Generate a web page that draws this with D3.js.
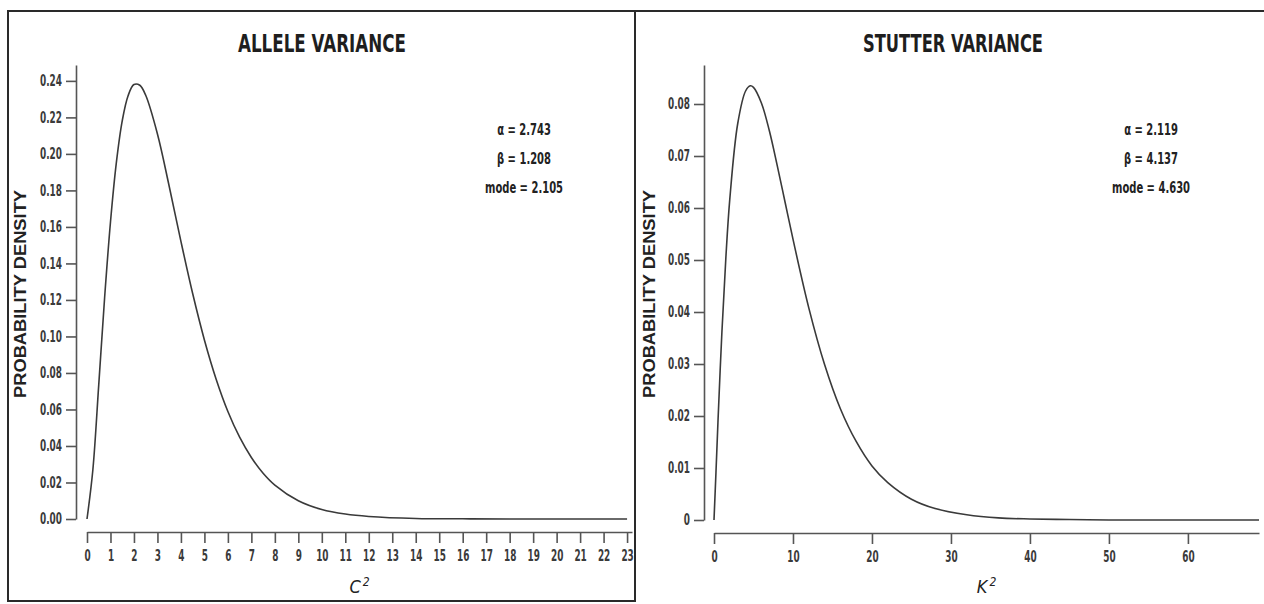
<!DOCTYPE html>
<html>
<head>
<meta charset="utf-8">
<script src="https://cdn.jsdelivr.net/npm/d3@7/dist/d3.min.js"></script>
<style>
  html, body { margin: 0; padding: 0; background: #fff; }
  svg { display: block; }
  .tick text { font-family: "DejaVu Sans Condensed", "Liberation Sans Narrow", sans-serif; font-size: 15px; font-weight: bold; fill: #3a3a3a; }
  .tick line, .domain { stroke: #555; stroke-width: 1.6px; }
</style>
</head>
<body>
<svg id="chart" width="1264" height="604"></svg>
<script>
// ---- Data ----
const titles = ["ALLELE VARIANCE", "STUTTER VARIANCE"];
const xLabels = ["C", "K"];
const yLabel = "PROBABILITY DENSITY";

const alleleX = [0, 0.25, 0.5, 0.75, 1, 1.25, 1.5, 1.75, 2, 2.25, 2.5, 3, 3.5, 4, 4.5, 5, 5.5, 6, 6.5, 7, 7.5, 8, 9, 10, 11, 12, 14, 16, 18, 20, 23];
const alleleY = [0, 0.027, 0.0735, 0.1212, 0.1627, 0.1952, 0.2181, 0.2319, 0.2380, 0.2376, 0.2321, 0.2109, 0.1823, 0.1521, 0.1235, 0.0981, 0.0766, 0.0589, 0.0448, 0.0337, 0.0251, 0.0186, 0.0100, 0.0052, 0.0027, 0.0014, 0.0003, 0.0001, 0, 0, 0];

const stutterX = [0, 0.25, 0.5, 1, 1.5, 2, 3, 4, 4.6, 5, 6, 7, 8, 9, 10, 12, 14, 16, 18, 20, 22, 25, 28, 32, 36, 40, 45, 50, 55, 60, 69];
const stutterY = [0, 0.0092, 0.0188, 0.0361, 0.0504, 0.0617, 0.0762, 0.0825, 0.0835, 0.0832, 0.0802, 0.0749, 0.0682, 0.0611, 0.0540, 0.0408, 0.0299, 0.0214, 0.0151, 0.0104, 0.0072, 0.0040, 0.0022, 0.0010, 0.0004, 0.0002, 0.0001, 0, 0, 0, 0];

const alleleXTicks = d3.range(0, 24, 1);
const alleleYTicks = [0, 0.02, 0.04, 0.06, 0.08, 0.10, 0.12, 0.14, 0.16, 0.18, 0.20, 0.22, 0.24];
const stutterXTicks = [0, 10, 20, 30, 40, 50, 60];
const stutterYTicks = [0, 0.01, 0.02, 0.03, 0.04, 0.05, 0.06, 0.07, 0.08];

const alleleParams = ["\u03b1 = 2.743", "\u03b2 = 1.208", "mode = 2.105"];
const stutterParams = ["\u03b1 = 2.119", "\u03b2 = 4.137", "mode = 4.630"];

// ---- Drawing ----
const svg = d3.select("#chart");
const narrow = '"DejaVu Sans Condensed", "Liberation Sans Narrow", sans-serif';
const SX = 0.66; // horizontal squeeze to mimic the condensed face

// frame
svg.append("rect").attr("x", 8).attr("y", 11).attr("width", 627).attr("height", 590)
  .attr("fill", "none").attr("stroke", "#2a2a2a").attr("stroke-width", 2);
svg.append("line").attr("x1", 635).attr("x2", 1264).attr("y1", 11).attr("y2", 11)
  .attr("stroke", "#2a2a2a").attr("stroke-width", 2);

const panels = [
  {
    title: titles[0], titleW: 168, xl: xLabels[0], xs: alleleX, ys: alleleY,
    xDomain: [0, 23.21], xRange: [87, 632], xTicks: alleleXTicks, xFmt: d3.format("d"),
    yDomain: [0, 0.2487], yRange: [519, 65], yTicks: alleleYTicks, yFmt: d3.format(".2f"),
    yAxisX: 76, xAxisY: 532, titleX: 322, yLabelX: 20, params: alleleParams, paramX: 524
  },
  {
    title: titles[1], titleW: 180, xl: xLabels[1], xs: stutterX, ys: stutterY,
    xDomain: [0, 69], xRange: [714, 1259], xTicks: stutterXTicks, xFmt: d3.format("d"),
    yDomain: [0, 0.0875], yRange: [520, 65], yTicks: stutterYTicks, yFmt: d => d === 0 ? "0" : d3.format(".2f")(d),
    yAxisX: 704, xAxisY: 533, titleX: 953, yLabelX: 649, params: stutterParams, paramX: 1151
  }
];

panels.forEach(p => {
  const x = d3.scaleLinear().domain(p.xDomain).range(p.xRange);
  const y = d3.scaleLinear().domain(p.yDomain).range(p.yRange);

  // title
  svg.append("text").attr("x", p.titleX).attr("y", 52).attr("text-anchor", "middle")
    .attr("textLength", p.titleW).attr("lengthAdjust", "spacingAndGlyphs")
    .style("font-family", narrow).style("font-weight", "bold").style("font-size", "24px")
    .attr("fill", "#1e1e1e").text(p.title);

  // y axis
  const gy = svg.append("g").attr("transform", `translate(${p.yAxisX},0)`)
    .call(d3.axisLeft(y).tickValues(p.yTicks).tickFormat(p.yFmt).tickSize(10).tickSizeOuter(0).tickPadding(3));
  gy.selectAll(".tick text").attr("x", -14 / SX).attr("transform", `scale(${SX},1)`);

  // x axis
  const gx = svg.append("g").attr("transform", `translate(0,${p.xAxisY})`)
    .call(d3.axisBottom(x).tickValues(p.xTicks).tickFormat(p.xFmt).tickSize(11).tickSizeOuter(0).tickPadding(7));
  gx.selectAll(".tick text").attr("transform", `scale(${SX},1)`);

  // y label
  svg.append("text")
    .attr("transform", `translate(${p.yLabelX + 6},294) rotate(-90)`)
    .attr("text-anchor", "middle")
    .attr("textLength", 208).attr("lengthAdjust", "spacingAndGlyphs")
    .style("font-family", "'Liberation Sans', Arial, sans-serif").style("font-weight", "bold").style("font-size", "16.5px")
    .attr("fill", "#222").text(yLabel);

  // x label
  const xc = (p.xRange[0] + p.xRange[1]) / 2;
  const xt = svg.append("text").attr("x", xc).attr("y", 593).attr("text-anchor", "middle")
    .style("font-family", narrow).style("font-style", "italic").style("font-size", "18px")
    .attr("fill", "#222");
  xt.append("tspan").text(p.xl);
  xt.append("tspan").attr("dx", 2).attr("dy", -7).style("font-size", "12px").text("2");

  // curve
  const pts = p.xs.map((v, i) => [v, p.ys[i]]);
  svg.append("path").datum(pts)
    .attr("fill", "none").attr("stroke", "#3a3a3a").attr("stroke-width", 1.6)
    .attr("d", d3.line().x(d => x(d[0])).y(d => y(Math.max(0, d[1]))).curve(d3.curveCatmullRom.alpha(0.5)));

  // parameters
  p.params.forEach((t, i) => {
    svg.append("g").attr("transform", `translate(${p.paramX},${135 + i * 29}) scale(0.74,1)`)
      .append("text").attr("x", 0).attr("y", 0).attr("text-anchor", "middle")
      .style("font-family", narrow).style("font-weight", "bold").style("font-size", "15px")
      .attr("fill", "#222").text(t);
  });
});
</script>
</body>
</html>
